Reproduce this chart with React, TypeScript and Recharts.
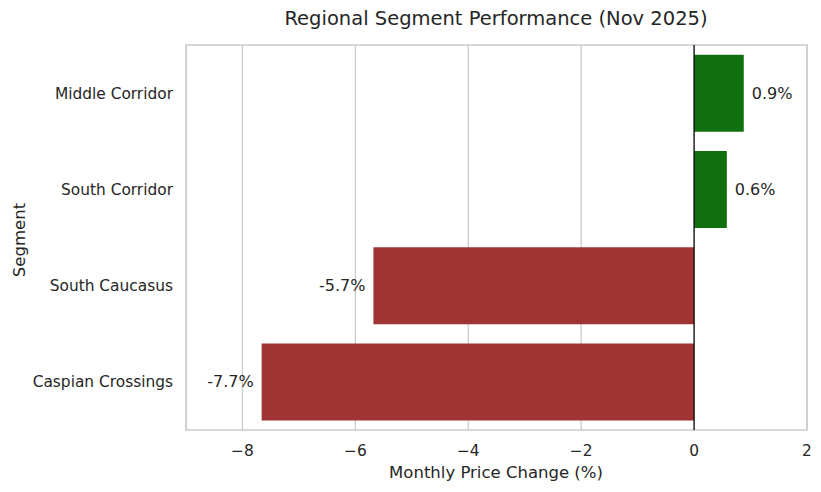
import { BarChart, Bar, XAxis, YAxis, CartesianGrid, ReferenceLine, ReferenceArea, LabelList, Cell } from "recharts";

const segments = ["Middle Corridor", "South Corridor", "South Caucasus", "Caspian Crossings"];
const changes = [0.88, 0.58, -5.68, -7.66];
const labels = ["0.9%", "0.6%", "-5.7%", "-7.7%"];
const xTicks = [-8, -6, -4, -2, 0, 2];

const POS = "#107010";
const NEG = "#a03434";
const TEXT = "#262626";
const FONT = "'DejaVu Sans', sans-serif";

const data = segments.map((segment, i) => ({ segment, change: changes[i], label: labels[i] }));

// texte à droite de la barre si positif, à gauche sinon
function BarLabel(props: any) {
  const { x, y, width, height, index } = props;
  const v = changes[index];
  const left = Math.min(x, x + width);
  const right = Math.max(x, x + width);
  const cy = y + height / 2;
  return (
    <text
      x={v >= 0 ? right + 8 : left - 8}
      y={cy}
      dy="0.35em"
      textAnchor={v >= 0 ? "start" : "end"}
      fill={TEXT}
      fontSize={16}
      fontFamily={FONT}
    >
      {labels[index]}
    </text>
  );
}

export default function App() {
  return (
    <div style={{ position: "absolute", left: 0, top: 0, width: 821, height: 492, background: "#fff", fontFamily: FONT }}>
      <div style={{ position: "absolute", left: 496, top: 18, transform: "translate(-50%, -50%)", fontSize: 19.5, color: TEXT, whiteSpace: "nowrap" }}>
        Regional Segment Performance (Nov 2025)
      </div>
      <div style={{ position: "absolute", left: 19, top: 240, transform: "translate(-50%, -50%) rotate(-90deg)", fontSize: 16.5, color: TEXT, whiteSpace: "nowrap" }}>
        Segment
      </div>
      <div style={{ position: "absolute", left: 496, top: 472, transform: "translate(-50%, -50%)", fontSize: 16.5, color: TEXT, whiteSpace: "nowrap" }}>
        Monthly Price Change (%)
      </div>
      <BarChart
        width={821}
        height={492}
        data={data}
        layout="vertical"
        margin={{ top: 45, right: 14, bottom: 32, left: 0 }}
        barCategoryGap="10%"
      >
        <CartesianGrid horizontal={false} stroke="#cccccc" strokeWidth={1.3} />
        <XAxis
          type="number"
          domain={[-9, 2]}
          ticks={xTicks}
          allowDataOverflow
          height={30}
          axisLine={false}
          tickLine={false}
          tickSize={0}
          tickMargin={15}
          tick={{ fill: TEXT, fontSize: 15.4, fontFamily: FONT }}
          tickFormatter={(v: number) => String(v).replace("-", "\u2212")}
        />
        <YAxis
          type="category"
          dataKey="segment"
          width={186}
          axisLine={false}
          tickLine={false}
          tickSize={0}
          tickMargin={13}
          tick={{ fill: TEXT, fontSize: 15.4, fontFamily: FONT }}
        />
        <ReferenceArea x1={-9} x2={2} fill="none" stroke="#cccccc" strokeWidth={1.6} ifOverflow="visible" />
        <Bar dataKey="change" isAnimationActive={false}>
          {data.map((d) => (
            <Cell key={d.segment} fill={d.change >= 0 ? POS : NEG} />
          ))}
          <LabelList dataKey="label" content={BarLabel} />
        </Bar>
        <ReferenceLine x={0} stroke="#000" strokeWidth={1.2} />
      </BarChart>
    </div>
  );
}
